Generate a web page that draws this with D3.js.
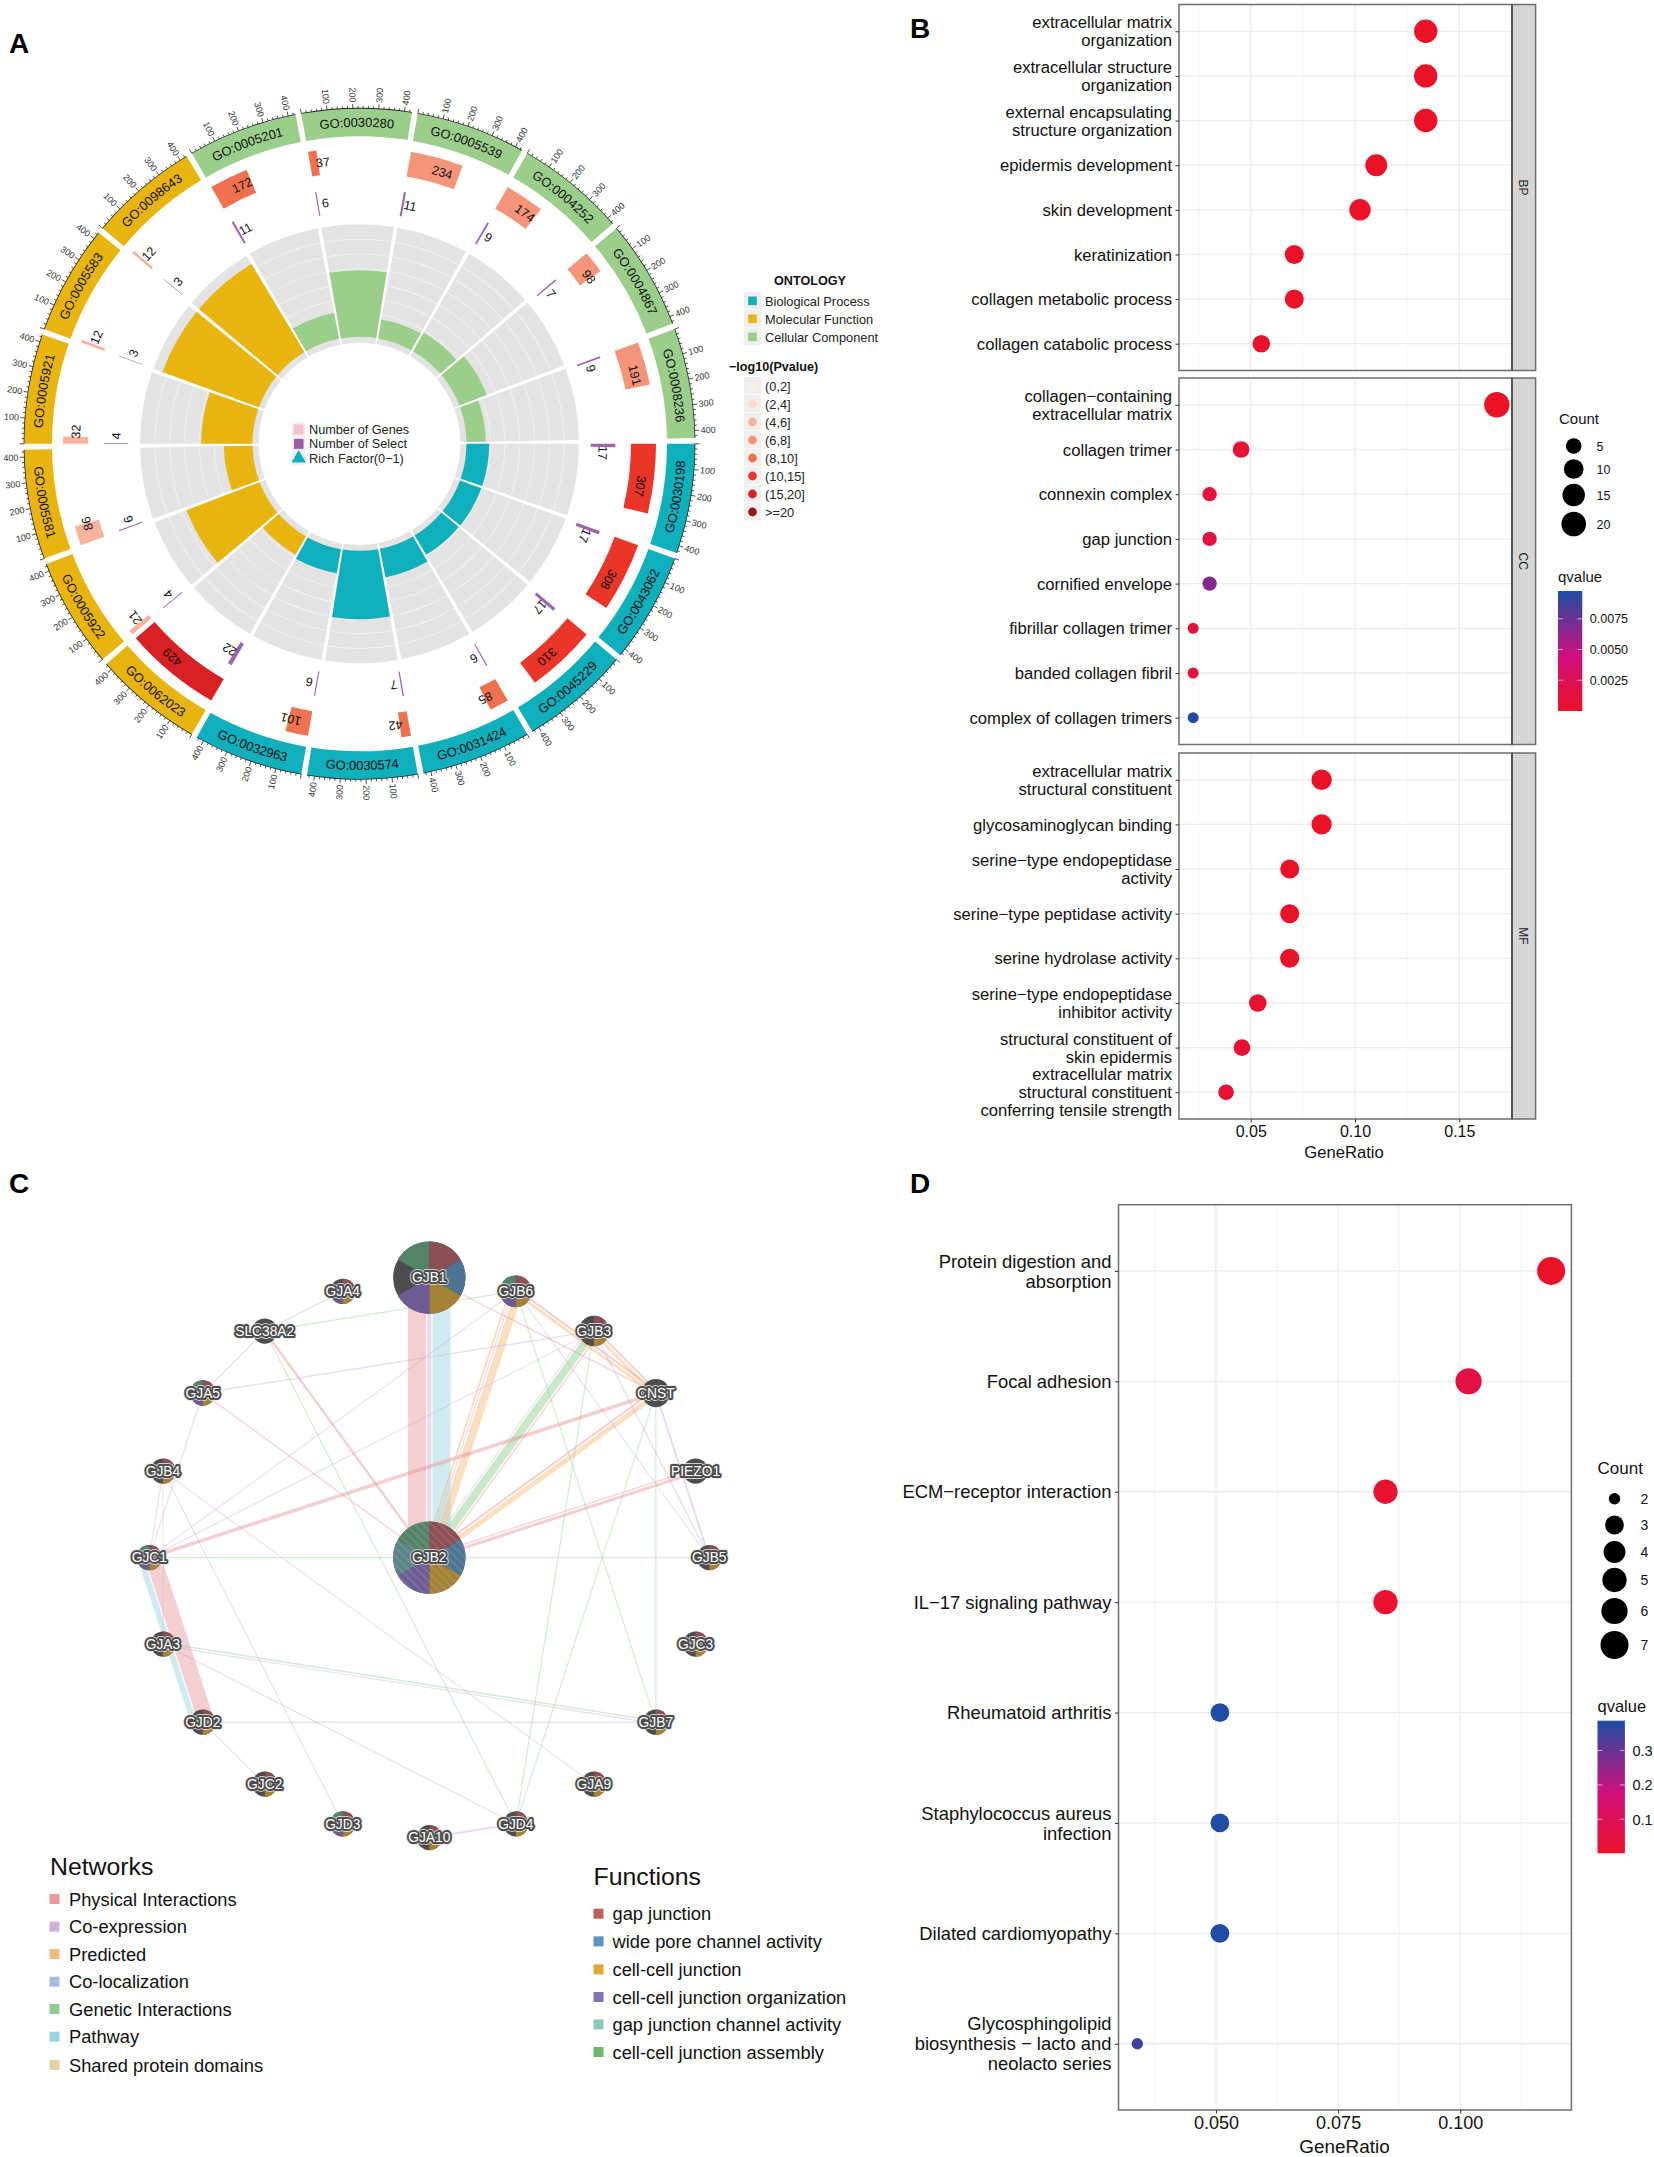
<!DOCTYPE html>
<html><head><meta charset="utf-8">
<script src="https://cdn.jsdelivr.net/npm/d3@7/dist/d3.min.js"></script>
<style>html,body{margin:0;padding:0;background:#fff}svg{display:block;font-family:"Liberation Sans",Arial,sans-serif}</style>
</head><body><svg id="fig" width="1654" height="2157" viewBox="0 0 1654 2157"></svg>
<script>
// ---------- Panel A data ----------
const goTerms = ["GO:0030198","GO:0043062","GO:0045229","GO:0031424","GO:0030574","GO:0032963","GO:0062023","GO:0005922","GO:0005581","GO:0005921","GO:0005583","GO:0098643","GO:0005201","GO:0030280","GO:0005539","GO:0004252","GO:0004867","GO:0008236"];
const goOntology = ["BP","BP","BP","BP","BP","BP","MF","MF","MF","MF","MF","MF","CC","CC","CC","CC","CC","CC"];
const goGenes = [307,308,310,85,42,101,429,21,86,32,12,12,172,37,234,174,98,191];
const goSelect = [17,17,17,6,7,6,22,4,6,4,3,3,11,6,11,9,7,9];
const goBin = [5,5,5,4,4,4,6,2,2,2,2,2,4,4,3,3,3,3];
const ontologyNames = ["Biological Process","Molecular Function","Cellular Component"];
const ontologyKeys = ["BP","MF","CC"];
const pvalueBins = ["(0,2]","(2,4]","(4,6]","(6,8]","(8,10]","(10,15]","(15,20]",">=20"];
const centreLegend = ["Number of Genes","Number of Select","Rich Factor(0\u22121)"];
const axisMajor = [100,200,300,400];
// ---------- Panel B data ----------
const bpTerms = ["extracellular matrix\norganization","extracellular structure\norganization","external encapsulating\nstructure organization","epidermis development","skin development","keratinization","collagen metabolic process","collagen catabolic process"];
const bpRatio = [0.1339,0.1339,0.1339,0.1102,0.1024,0.0709,0.0709,0.0551];
const bpCount = [17,17,17,14,13,9,9,7];
const bpQ = [0.00005,0.00005,0.00005,0.00005,0.00005,0.0001,0.00005,0.0001];
const ccTerms = ["collagen\u2212containing\nextracellular matrix","collagen trimer","connexin complex","gap junction","cornified envelope","fibrillar collagen trimer","banded collagen fibril","complex of collagen trimers"];
const ccRatio = [0.168,0.0454,0.0303,0.0303,0.0303,0.0224,0.0224,0.0224];
const ccCount = [22,6,4,4,4,3,3,3];
const ccQ = [0.00002,0.0006,0.0011,0.0014,0.0068,0.0009,0.0009,0.0097];
const mfTerms = ["extracellular matrix\nstructural constituent","glycosaminoglycan binding","serine\u2212type endopeptidase\nactivity","serine\u2212type peptidase activity","serine hydrolase activity","serine\u2212type endopeptidase\ninhibitor activity","structural constituent of\nskin epidermis","extracellular matrix\nstructural constituent\nconferring tensile strength"];
const mfRatio = [0.0840,0.0840,0.0687,0.0687,0.0687,0.0534,0.0458,0.0382];
const mfCount = [11,11,9,9,9,7,6,5];
const mfQ = [0.00005,0.00005,0.0001,0.0001,0.0001,0.0004,0.0005,0.0007];
const facetNames = ["BP","CC","MF"];
const bCountLegend = [5,10,15,20];
const bQTicks = [0.0025,0.005,0.0075];
const bXTicks = [0.05,0.10,0.15];
// ---------- Panel D data ----------
const keggTerms = ["Protein digestion and\nabsorption","Focal adhesion","ECM\u2212receptor interaction","IL\u221217 signaling pathway","Rheumatoid arthritis","Staphylococcus aureus\ninfection","Dilated cardiomyopathy","Glycosphingolipid\nbiosynthesis \u2212 lacto and\nneolacto series"];
const keggRatio = [0.1186,0.1017,0.0847,0.0847,0.0508,0.0508,0.0508,0.0339];
const keggCount = [7,6,5,5,3,3,3,2];
const keggQ = [0.005,0.06,0.02,0.02,0.385,0.385,0.385,0.35];
const dCountLegend = [2,3,4,5,6,7];
const dQTicks = [0.1,0.2,0.3];
const dXTicks = [0.05,0.075,0.1];
// ---------- Panel C data ----------
const ringGenes = ["GJB1","GJB6","GJB3","CNST","PIEZO1","GJB5","GJC3","GJB7","GJA9","GJD4","GJA10","GJD3","GJC2","GJD2","GJA3","GJC1","GJB4","GJA5","SLC38A2","GJA4"];
const ringScore = [100,44,42,39,35,35,35,35,35,35,35,35,35,35,35,35,35,35,35,35];
const hubGene = "GJB2";
const hubScore = 100;
const geneFunctions = {GJB1:[0,1,2,3,5],GJB2:[0,1,2,3,4,5],GJB6:[0,1,2,3,5],GJB3:[0,2],GJB5:[0,2],GJC3:[0,2],GJB7:[0,2],GJA9:[0,2],GJD4:[0,2],GJA10:[0,2],GJD3:[0,2,3,5],GJC2:[0,2],GJD2:[0,2],GJA3:[0,2],GJC1:[0,2,3,5],GJB4:[0,2],GJA5:[0,2,3,5],GJA4:[0,2,3],CNST:[],PIEZO1:[],SLC38A2:[]};
const networkNames = ["Physical Interactions","Co-expression","Predicted","Co-localization","Genetic Interactions","Pathway","Shared protein domains"];
const functionNames = ["gap junction","wide pore channel activity","cell-cell junction","cell-cell junction organization","gap junction channel activity","cell-cell junction assembly"];
// source, target, network type, weight
const edges = [
 ["GJB1","GJB2",0,18],["GJB1","GJB2",1,4],["GJB1","GJB2",5,18],
 ["GJC1","GJD2",5,6],["GJC1","GJD2",0,16],
 ["GJB6","GJB2",2,2],["GJB6","GJB2",1,1.5],["GJB6","GJB2",2,8],
 ["GJB3","GJB2",1,1.2],["GJB3","GJB2",4,8],["GJB3","GJB2",0,1.5],
 ["CNST","GJB2",0,2],["CNST","GJB2",2,5],
 ["PIEZO1","GJB2",0,1.5],["PIEZO1","GJB2",0,3],
 ["CNST","GJC1",0,3.5],["SLC38A2","GJB2",0,2.4],["GJA5","GJB2",0,1.5],
 ["GJB1","CNST",0,1.5],["GJB6","CNST",2,3],["GJB6","CNST",0,2],["GJB3","CNST",2,3],["GJB3","CNST",0,2],
 ["GJB3","GJA5",1,1.5],["GJB3","GJC1",1,1.2],["GJB6","GJC1",1,1.2],
 ["SLC38A2","GJA4",1,1.3],["SLC38A2","GJA5",1,1.3],["GJA5","GJC1",1,1.3],["GJB4","GJC1",1,1.3],["GJA3","GJB4",1,1],
 ["SLC38A2","GJB6",4,1.2],["SLC38A2","GJD4",4,1.2],["GJB6","GJB7",4,1.2],["GJB3","GJD4",4,1.2],["CNST","GJD4",4,1.2],["CNST","GJB7",4,1.2],["GJC1","GJB2",4,1.3],
 ["GJB4","GJD3",1,1.2],["GJB4","GJA9",1,1.2],["GJA3","GJD4",1,1.2],["GJA3","GJB7",1,1.4],["GJA3","GJB7",4,1.4],
 ["GJD2","GJB7",1,1.6],["GJD2","GJC2",1,1.2],["GJD4","GJA10",1,2],
 ["GJB2","GJB5",1,1.5],["GJB6","GJB5",1,1.2],["GJB3","GJB5",1,1.6],["CNST","GJB5",1,2]
];

const svg = d3.select("#fig");
svg.append("rect").attr("width",1654).attr("height",2157).attr("fill","#fff");
const TXT="#111";
const rad=d=>d*Math.PI/180;

// panel letters
[["A",9,53],["B",910,38],["C",9,1193],["D",910,1193]].forEach(([t,x,y])=>svg.append("text").attr("x",x).attr("y",y).attr("font-size",28).attr("font-weight","bold").attr("fill","#000").text(t));

// ================= PANEL A =================
(function(){
 const cx=359.5,cy=443.8;
 const g=svg.append("g").attr("transform",`translate(${cx},${cy})`);
 const ontColor={BP:"#10AFBC",MF:"#E8B510",CC:"#9BCE8B"};
 const pvColors=["#FEEFE6","#FDDCCF","#F9B29C","#F49478","#F0714F","#EA3529","#D92023","#99141F"];
 const STEP=20,SPAN=19,MAX=429;
 const bandR=[307.5,335.5],geneR=[271.5,296.5],selR=[231.2,255.8],richR=[101,219.5],richBase=107;
 const toA=d3.scaleLinear().domain([0,MAX]).range([0,SPAN]);
 const richR_scale=d3.scaleLinear().domain([0,0.274]).range([richBase,richR[1]]);
 const pol=(r,t)=>[r*Math.cos(rad(t)),r*Math.sin(rad(t))];
 const sect=(r0,r1,t0,t1)=>d3.arc()({innerRadius:r0,outerRadius:r1,startAngle:rad(t0+90),endAngle:rad(t1+90)});
 const defs=svg.append("defs");
 goTerms.forEach((term,i)=>{
  const s=i*STEP,e=s+SPAN,col=ontColor[goOntology[i]],n=goGenes[i],m=goSelect[i];
  g.append("path").attr("d",sect(richR[0],richR[1],s,e)).attr("fill","#E3E3E3");
  d3.range(1,8).forEach(k=>g.append("path").attr("d",d3.arc()({innerRadius:richR[0]+14.8*k-0.35,outerRadius:richR[0]+14.8*k+0.35,startAngle:rad(s+90),endAngle:rad(e+90)})).attr("fill","#F4F4F4"));
  g.append("path").attr("d",sect(richBase,richR_scale(m/n),s,e)).attr("fill",col);
  g.append("path").attr("d",sect(selR[0],selR[1],s,s+toA(m))).attr("fill","#A063B4");
  g.append("path").attr("d",sect(geneR[0],geneR[1],s,s+toA(n))).attr("fill",pvColors[goBin[i]]);
  g.append("path").attr("d",sect(bandR[0],bandR[1],s,e)).attr("fill",col);
  const lab=(v,r)=>{const t=s+toA(v/2+40),[x,y]=pol(r,t);
   g.append("text").attr("transform",`translate(${x},${y}) rotate(${t+90})`).attr("text-anchor","middle").attr("dy",".36em").attr("font-size",12.5).attr("fill","#111").text(v);};
  lab(n,(geneR[0]+geneR[1])/2); lab(m,(selR[0]+selR[1])/2);
  const mid=(s+e)/2, upper=mid>180;
  const p=d3.path(), rb=upper?317:326.2;
  if(upper) p.arc(0,0,rb,rad(s),rad(e),false); else p.arc(0,0,rb,rad(e),rad(s),true);
  const id="goarc"+i;
  defs.append("path").attr("id",id).attr("d",p.toString());
  g.append("text").attr("font-size",12.9).attr("fill","#111").attr("text-anchor","middle").append("textPath").attr("href","#"+id).attr("startOffset","50%").text(term);
  g.append("path").attr("d",d3.arc()({innerRadius:bandR[1]-0.4,outerRadius:bandR[1]+0.4,startAngle:rad(s+90),endAngle:rad(e+90)})).attr("fill","#222");
  d3.range(0,MAX+1,20).forEach(v=>{const t=s+toA(v),maj=v%100===0,[x0,y0]=pol(bandR[1],t),[x1,y1]=pol(bandR[1]+(maj?4.5:2.4),t);
   g.append("line").attr("x1",x0).attr("y1",y0).attr("x2",x1).attr("y2",y1).attr("stroke","#222").attr("stroke-width",0.8);});
  axisMajor.forEach(v=>{const t=s+toA(v),[x,y]=pol(bandR[1]+6,t),right=Math.cos(rad(t))>=0;
   g.append("text").attr("transform",`translate(${x},${y}) rotate(${right?t:t+180})`).attr("text-anchor",right?"start":"end").attr("dy",".35em").attr("font-size",9).attr("fill","#333").text(v);});
 });
 const cl=svg.append("g");
 centreLegend.forEach((t,i)=>{const y=429.5+i*14.4;
  cl.append("rect").attr("x",292).attr("y",y-7).attr("width",13.5).attr("height",14).attr("fill","#EFEFEF");
  if(i===0) cl.append("rect").attr("x",294).attr("y",y-5).attr("width",9.5).attr("height",10).attr("fill","#F7BFCC");
  if(i===1) cl.append("rect").attr("x",294).attr("y",y-5).attr("width",9.5).attr("height",10).attr("fill","#9A5BA8");
  if(i===2) cl.append("path").attr("d",d3.symbol(d3.symbolTriangle,90)()).attr("transform",`translate(298.7,${y})`).attr("fill","#10AFBC");
  cl.append("text").attr("x",309).attr("y",y).attr("dy",".36em").attr("font-size",12.7).attr("fill","#222").text(t);
 });
 const ol=svg.append("g");
 ol.append("text").attr("x",810).attr("y",280).attr("dy",".36em").attr("text-anchor","middle").attr("font-size",12.6).attr("font-weight","bold").attr("fill","#111").text("ONTOLOGY");
 ontologyNames.forEach((t,i)=>{const y=301+i*18;
  ol.append("rect").attr("x",744).attr("y",y-9).attr("width",17).attr("height",17.4).attr("fill","#EFEFEF");
  ol.append("rect").attr("x",748.2).attr("y",y-4.5).attr("width",8.6).attr("height",8.6).attr("fill",ontColor[ontologyKeys[i]]);
  ol.append("text").attr("x",765).attr("y",y).attr("dy",".36em").attr("font-size",12.8).attr("fill","#222").text(t);
 });
 ol.append("text").attr("x",729).attr("y",366).attr("dy",".36em").attr("font-size",12.6).attr("font-weight","bold").attr("fill","#111").text("\u2212log10(Pvalue)");
 pvalueBins.forEach((t,i)=>{const y=386+i*18;
  ol.append("rect").attr("x",744).attr("y",y-9).attr("width",17).attr("height",17.4).attr("fill","#EFEFEF");
  ol.append("circle").attr("cx",752.5).attr("cy",y).attr("r",4.4).attr("fill",pvColors[i]);
  ol.append("text").attr("x",765).attr("y",y).attr("dy",".36em").attr("font-size",12.8).attr("fill","#222").text(t);
 });
})();

// ================= shared dot plot helpers =================
const qStops=[0,0.45,1], qRange=["#EB1226","#D20E7C","#1F4DA5"];
function addAxisLabels(sel,lh,fs){
 sel.selectAll("text").each(function(){
  const t=d3.select(this),lines=t.text().split("\n");t.text(null).attr("dy",null).attr("y",0);
  lines.forEach((l,i)=>t.append("tspan").attr("x",t.attr("x")).attr("dy",i===0?(-(lines.length-1)/2*lh+fs*0.36-0.4):lh).text(l));
 });
 sel.attr("font-size",fs).attr("font-family",null);
 sel.selectAll("text").attr("fill",TXT);
}
function dotPanel(o){
 const g=svg.append("g");
 const {x,top,bottom,left,right,terms,ratio,count,q,rScale,qScale,major,minor,fs,lh}=o;
 const y=d3.scalePoint().domain(terms).range([top,bottom]).padding(0.6);
 minor.forEach(v=>g.append("line").attr("x1",x(v)).attr("x2",x(v)).attr("y1",top).attr("y2",bottom).attr("stroke","#EFEFEF").attr("stroke-width",0.8));
 major.forEach(v=>g.append("line").attr("x1",x(v)).attr("x2",x(v)).attr("y1",top).attr("y2",bottom).attr("stroke","#EBEBEB").attr("stroke-width",1.3));
 terms.forEach(t=>g.append("line").attr("x1",left).attr("x2",right).attr("y1",y(t)).attr("y2",y(t)).attr("stroke","#EBEBEB").attr("stroke-width",1.3));
 g.selectAll("circle.pt").data(terms).join("circle").attr("cx",(d,i)=>x(ratio[i])).attr("cy",d=>y(d)).attr("r",(d,i)=>rScale(count[i])).attr("fill",(d,i)=>qScale(q[i]));
 g.append("rect").attr("x",left).attr("y",top).attr("width",right-left).attr("height",bottom-top).attr("fill","none").attr("stroke","#6E6E6E").attr("stroke-width",1.5);
 const ya=g.append("g").attr("transform",`translate(${left},0)`).call(d3.axisLeft(y).tickSize(3.5).tickPadding(3.5));
 ya.select(".domain").remove(); ya.selectAll("line").attr("stroke","#333").attr("stroke-width",1);
 addAxisLabels(ya,lh,fs);
 return {g,y};
}
function qLegend(id,xx,y0,y1,w,scale,domain,ticks,fmt,title,tfs,titleFs){
 const gr=svg.append("defs").append("linearGradient").attr("id",id).attr("x1",0).attr("x2",0).attr("y1",1).attr("y2",0);
 d3.range(0,1.001,0.05).forEach(t=>gr.append("stop").attr("offset",t).attr("stop-color",scale(domain[0]+t*(domain[1]-domain[0]))));
 svg.append("text").attr("x",xx).attr("y",y0-14.5).attr("dy",".36em").attr("font-size",titleFs).attr("fill",TXT).text(title);
 svg.append("rect").attr("x",xx).attr("y",y0).attr("width",w).attr("height",y1-y0).attr("fill",`url(#${id})`);
 const ys=d3.scaleLinear().domain(domain).range([y1,y0]);
 ticks.forEach(v=>{
  [[xx,xx+5],[xx+w-5,xx+w]].forEach(([a,b])=>svg.append("line").attr("x1",a).attr("x2",b).attr("y1",ys(v)).attr("y2",ys(v)).attr("stroke","#fff").attr("stroke-width",0.8).attr("opacity",.8));
  svg.append("text").attr("x",xx+w+7.5).attr("y",ys(v)).attr("dy",".36em").attr("font-size",tfs).attr("fill",TXT).text(fmt(v));
 });
}

// ================= PANEL B =================
(function(){
 const left=1179,right=1512;
 const x=d3.scaleLinear().domain([0.01563,0.17526]).range([left,right]);
 const rb=d3.scaleSqrt().domain([0,19]).range([5.5,12.7]);
 const rS=c=>rb(c-3);
 const qDom=[0,0.00976];
 const qS=d3.scaleLinear().domain(qStops.map(t=>qDom[0]+t*(qDom[1]-qDom[0]))).range(qRange).clamp(true);
 const panels=[[4.5,370.5,bpTerms,bpRatio,bpCount,bpQ],[378,744.5,ccTerms,ccRatio,ccCount,ccQ],[753,1119,mfTerms,mfRatio,mfCount,mfQ]];
 panels.forEach(([top,bottom,terms,ratio,count,q],i)=>{
  dotPanel({x,top,bottom,left,right,terms,ratio,count,q,rScale:rS,qScale:qS,major:bXTicks,minor:[0.025,0.075,0.125],fs:16.65,lh:18});
  svg.append("rect").attr("x",right).attr("y",top).attr("width",23.6).attr("height",bottom-top).attr("fill","#D6D6D6").attr("stroke","#6E6E6E").attr("stroke-width",1.5);
  svg.append("line").attr("x1",right).attr("x2",right).attr("y1",top).attr("y2",bottom).attr("stroke","#555").attr("stroke-width",2);
  svg.append("text").attr("transform",`translate(${right+11.8},${(top+bottom)/2}) rotate(90)`).attr("text-anchor","middle").attr("dy",".36em").attr("font-size",12).attr("fill","#222").text(facetNames[i]);
 });
 const xa=svg.append("g").attr("transform","translate(0,1119)").call(d3.axisBottom(x).tickValues(bXTicks).tickFormat(d3.format(".2f")).tickSize(3.5).tickPadding(3));
 xa.select(".domain").remove(); xa.selectAll("line").attr("stroke","#333");
 xa.attr("font-size",16).attr("font-family",null); xa.selectAll("text").attr("fill",TXT);
 svg.append("text").attr("x",1344).attr("y",1152).attr("dy",".36em").attr("text-anchor","middle").attr("font-size",16.6).attr("fill",TXT).text("GeneRatio");
 svg.append("text").attr("x",1559).attr("y",419).attr("dy",".36em").attr("font-size",15).attr("fill",TXT).text("Count");
 const ly=[446,469,495,524];
 bCountLegend.forEach((c,i)=>{
  svg.append("circle").attr("cx",1573.7).attr("cy",ly[i]).attr("r",rS(c)).attr("fill","#000");
  svg.append("text").attr("x",1596.5).attr("y",ly[i]).attr("dy",".36em").attr("font-size",12.5).attr("fill",TXT).text(c);
 });
 qLegend("qb",1558,591,711,24.3,qS,qDom,bQTicks,d3.format(".4f"),"qvalue",12.5,15);
})();

// ================= PANEL D =================
(function(){
 const left=1118.5,right=1571.4,top=1204.7,bottom=2110;
 const x=d3.scaleLinear().domain([0.03005,0.12275]).range([left,right]);
 const rb=d3.scaleSqrt().domain([0,5]).range([5.7,14]);
 const rS=c=>rb(c-2);
 const qDom=[0.001,0.387];
 const qS=d3.scaleLinear().domain(qStops.map(t=>qDom[0]+t*(qDom[1]-qDom[0]))).range(qRange).clamp(true);
 dotPanel({x,top,bottom,left,right,terms:keggTerms,ratio:keggRatio,count:keggCount,q:keggQ,rScale:rS,qScale:qS,major:dXTicks,minor:[0.0375,0.0625,0.0875,0.1125],fs:18.4,lh:20});
 const xa=svg.append("g").attr("transform",`translate(0,${bottom})`).call(d3.axisBottom(x).tickValues(dXTicks).tickFormat(d3.format(".3f")).tickSize(3.5).tickPadding(3));
 xa.select(".domain").remove(); xa.selectAll("line").attr("stroke","#333");
 xa.attr("font-size",18).attr("font-family",null); xa.selectAll("text").attr("fill",TXT);
 svg.append("text").attr("x",1344.5).attr("y",2146.5).attr("dy",".36em").attr("text-anchor","middle").attr("font-size",18.9).attr("fill",TXT).text("GeneRatio");
 svg.append("text").attr("x",1597.5).attr("y",1468).attr("dy",".36em").attr("font-size",17).attr("fill",TXT).text("Count");
 const ly=[1498.7,1525,1552,1580,1611,1645];
 dCountLegend.forEach((c,i)=>{
  svg.append("circle").attr("cx",1614.5).attr("cy",ly[i]).attr("r",rS(c)).attr("fill","#000");
  svg.append("text").attr("x",1640.5).attr("y",ly[i]).attr("dy",".36em").attr("font-size",14).attr("fill",TXT).text(c);
 });
 qLegend("qd",1597.5,1720.7,1853.3,27.4,qS,qDom,dQTicks,d3.format(".1f"),"qvalue",14.5,16.5);
})();

// ================= PANEL C =================
(function(){
 const cx=429.3,cy=1557.6,R=280;
 const edgeCol=["#E58E92","#C7A9D6","#F0B56C","#9DB2DC","#84C884","#8FD0DC","#DDD09A"];
 const fnLegendCol=["#C0605C","#5B94C4","#E5A535","#8470B8","#8CC8BC","#6DB86D"];
 const pieCol=["#8C4F53","#4D7592","#A58236","#6D5C93","#5C8485","#55836A"];
 const rS=d3.scaleLinear().domain([0,100]).range([0,36.2]);
 const ang=d3.scalePoint().domain(ringGenes).range([0,342]);
 const nodes=ringGenes.map((n,i)=>{const a=rad(ang(n));return {name:n,score:ringScore[i],x:cx+R*Math.sin(a),y:cy-R*Math.cos(a)};});
 nodes.push({name:hubGene,score:hubScore,x:cx,y:cy});
 const byName=Object.fromEntries(nodes.map(n=>[n.name,n]));
 const g=svg.append("g");
 const groups=d3.group(edges,e=>e[0]+"|"+e[1]);
 const GAP=1.2;
 groups.forEach(list=>{
  const tot=d3.sum(list,e=>e[3])+GAP*(list.length-1);let acc=0;
  list.forEach(e=>{
   const a=byName[e[0]],b=byName[e[1]],dx=b.x-a.x,dy=b.y-a.y,L=Math.hypot(dx,dy),nx=-dy/L,ny=dx/L;
   const off=tot/2-acc-e[3]/2; acc+=e[3]+GAP;
   g.append("line").attr("x1",a.x+nx*off).attr("y1",a.y+ny*off).attr("x2",b.x+nx*off).attr("y2",b.y+ny*off).attr("stroke",edgeCol[e[2]]).attr("stroke-width",e[3]).attr("stroke-opacity",e[3]<2?.36:.43);
  });
 });
 const pat=svg.append("defs").append("pattern").attr("id","hatch").attr("width",6).attr("height",6).attr("patternUnits","userSpaceOnUse").attr("patternTransform","rotate(-45)");
 pat.append("rect").attr("width",2).attr("height",6).attr("fill","#fff").attr("opacity",.1);
 const pie=d3.pie().sort(null).value(1);
 const slices=pie(d3.range(6));
 nodes.forEach(n=>{
  const r=rS(n.score),ng=svg.append("g").attr("transform",`translate(${n.x},${n.y})`);
  const fns=geneFunctions[n.name]||[];
  ng.append("circle").attr("r",r).attr("fill","#4D4D4D");
  slices.forEach((s,i)=>{ if(fns.includes(i)) ng.append("path").attr("d",d3.arc().innerRadius(0).outerRadius(r)(s)).attr("fill",pieCol[i]); });
  if(n.name===hubGene) ng.append("circle").attr("r",r).attr("fill","url(#hatch)");
 });
 nodes.forEach(n=>{
  const t=(st,w,f)=>svg.append("text").attr("x",n.x).attr("y",n.y).attr("dy",".34em").attr("text-anchor","middle").attr("font-size",13.8).attr("fill",f).attr("stroke",st).attr("stroke-width",w).attr("stroke-linejoin","round").text(n.name);
  t("#E6E6E6",5.4,"#fff"); t("#4D4D4D",4,"#fff"); t("none",0,"#fff");
 });
 svg.append("text").attr("x",50).attr("y",1866).attr("dy",".36em").attr("font-size",24.8).attr("fill",TXT).text("Networks");
 const ny=[1899,1926.7,1954,1981.7,2009,2036.7,2065];
 networkNames.forEach((t,i)=>{
  svg.append("rect").attr("x",49.5).attr("y",ny[i]-5).attr("width",10).attr("height",10).attr("fill",edgeCol[i]).attr("opacity",.9);
  svg.append("text").attr("x",69).attr("y",ny[i]).attr("dy",".36em").attr("font-size",18.3).attr("fill",TXT).text(t);
 });
 svg.append("text").attr("x",593.5).attr("y",1876.5).attr("dy",".36em").attr("font-size",24.8).attr("fill",TXT).text("Functions");
 const fy=[1913.7,1941.4,1969.4,1997,2024.4,2052];
 functionNames.forEach((t,i)=>{
  svg.append("rect").attr("x",593.5).attr("y",fy[i]-5).attr("width",10).attr("height",10).attr("fill",fnLegendCol[i]);
  svg.append("text").attr("x",612.5).attr("y",fy[i]).attr("dy",".36em").attr("font-size",18.3).attr("fill",TXT).text(t);
 });
})();
</script></body></html>
